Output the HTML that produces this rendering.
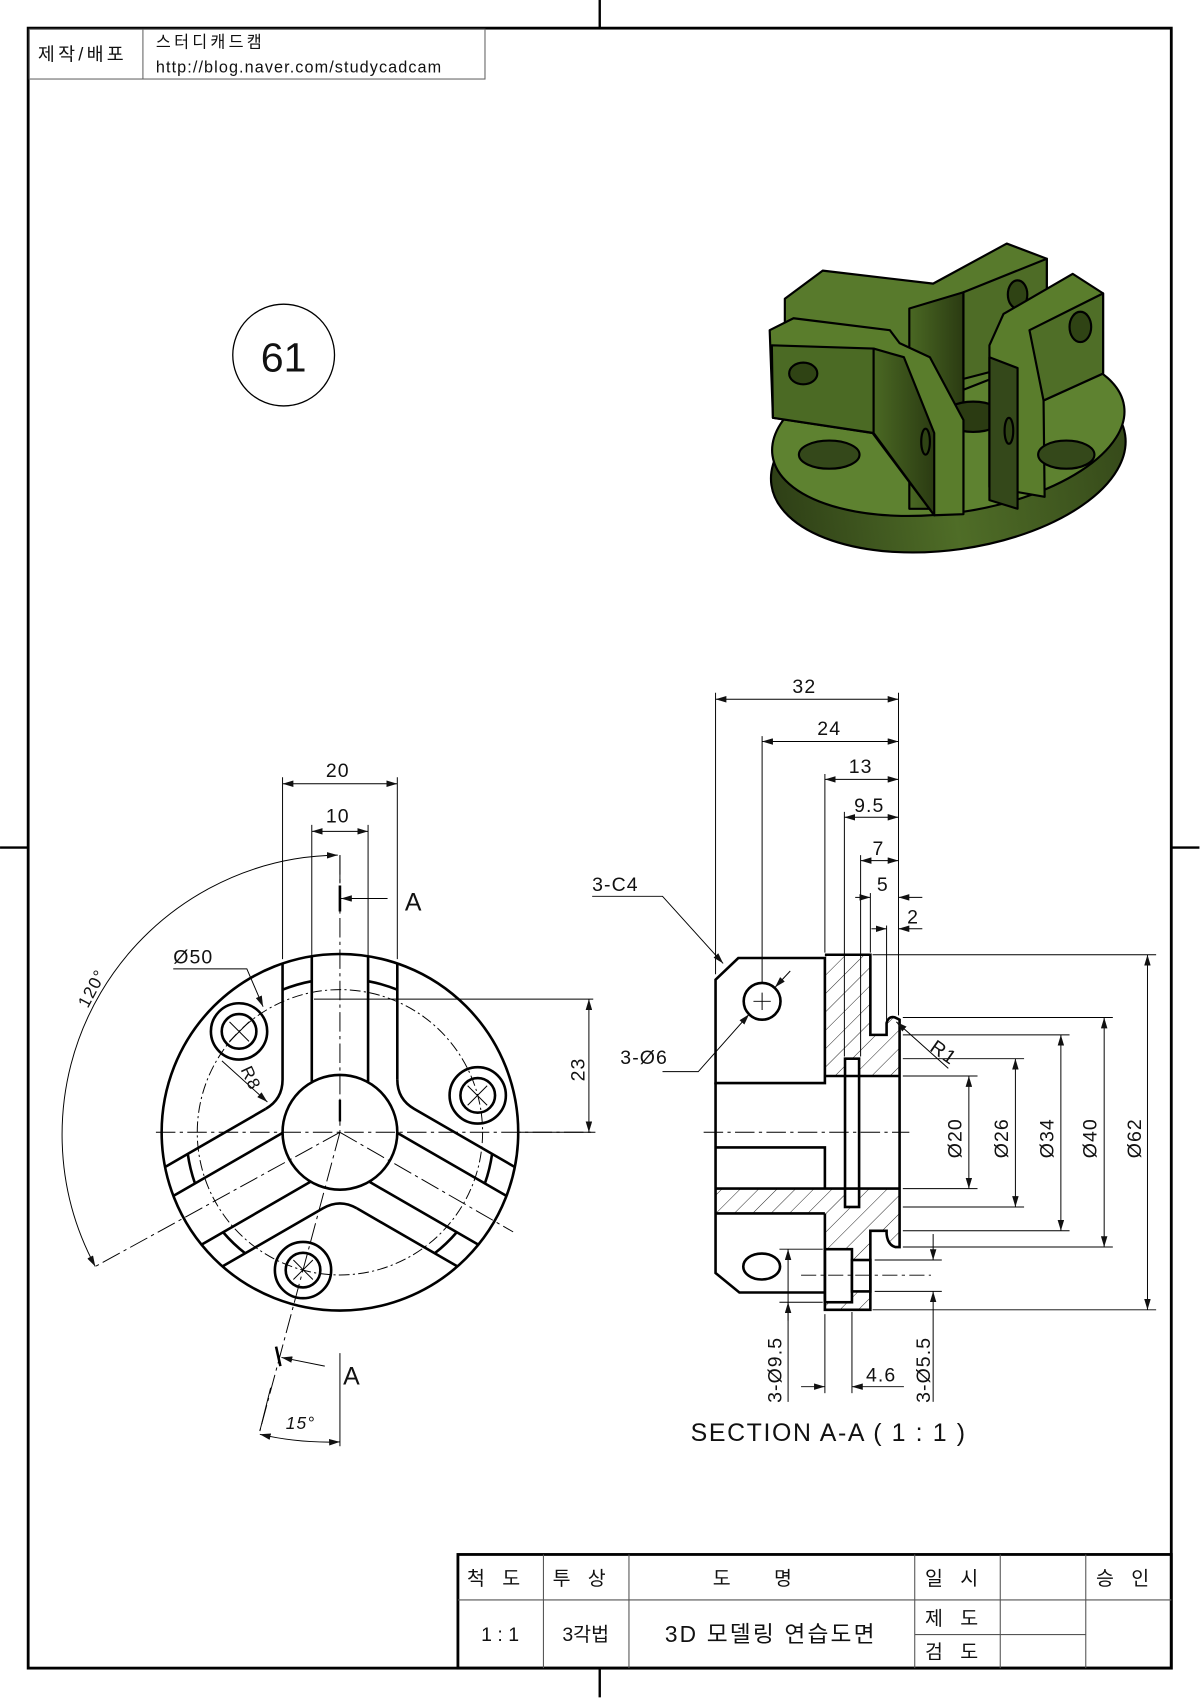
<!DOCTYPE html>
<html><head><meta charset="utf-8"><style>
html,body{margin:0;padding:0;background:#fff}
svg{display:block}
text{font-family:"Liberation Sans","Noto Sans CJK KR",sans-serif;fill:#111}
</style></head><body>
<svg width="1200" height="1698" viewBox="0 0 1108.5 1568.6" xmlns="http://www.w3.org/2000/svg">
<defs>
<pattern id="h" patternUnits="userSpaceOnUse" width="12" height="12" patternTransform="rotate(45)">
<line x1="0" y1="0" x2="0" y2="12" stroke="#222" stroke-width="0.9"/></pattern>
<marker id="a" viewBox="0 0 10 6" refX="10" refY="3" markerWidth="10" markerHeight="6" markerUnits="userSpaceOnUse" orient="auto-start-reverse"><path d="M0,0L10,3L0,6z" fill="#111"/></marker>
<linearGradient id="g1" x1="0" x2="1"><stop offset="0" stop-color="#2e3f16"/><stop offset="0.5" stop-color="#4f6d27"/><stop offset="1" stop-color="#364a1a"/></linearGradient>
<linearGradient id="g2" x1="0" x2="1"><stop offset="0" stop-color="#4a6823"/><stop offset="1" stop-color="#2b3b12"/></linearGradient>
</defs>
<rect width="1108.5" height="1568.6" fill="#fff"/>
<rect x="26" y="26" width="1056" height="1515" fill="none" stroke="#000" stroke-width="2.6"/>
<g stroke="#000" stroke-width="2.2">
<line x1="554" y1="0" x2="554" y2="26"/><line x1="554" y1="1541" x2="554" y2="1568"/>
<line x1="0" y1="783" x2="26" y2="783"/><line x1="1082" y1="783" x2="1108" y2="783"/>
</g>
<g stroke="#666" stroke-width="1" fill="none"><rect x="27" y="27" width="421" height="46"/><line x1="132" y1="27" x2="132" y2="73"/></g>
<text x="35" y="56" font-size="17" letter-spacing="3">제작/배포</text>
<text x="144" y="44" font-size="15" letter-spacing="3">스터디캐드캠</text>
<text x="144" y="67" font-size="15" letter-spacing="1">http://blog.naver.com/studycadcam</text>
<circle cx="262" cy="328" r="47" fill="none" stroke="#000" stroke-width="1.2"/>
<text x="262" y="343" font-size="38" text-anchor="middle">61</text>

<!-- 3D model -->
<g stroke="#000" stroke-width="2" stroke-linejoin="round">
<ellipse cx="876" cy="425" rx="165" ry="83" transform="rotate(-8 876 425)" fill="url(#g1)"/>
<ellipse cx="876" cy="398" rx="164" ry="76" transform="rotate(-8 876 398)" fill="#5e8230"/>
<path d="M725,276 L760,250 L862,262 L930,225 L967,239 L967,330 L890,360 L840,350 L725,300Z" fill="#587a2c"/>
<path d="M840,285 L890,270 L890,470 L840,470Z" fill="url(#g2)"/>
<path d="M890,270 L967,239 L967,330 L890,350Z" fill="#4e6c26"/>
<ellipse cx="940" cy="272" rx="9" ry="13" fill="#2f4314"/>
<ellipse cx="899" cy="385" rx="28" ry="14" fill="#2b3b12"/>
<path d="M711,305 L733,294 L822,305 L831,317 L859,330 L890,388 L890,475 L863,476 L806,400 L714,386Z" fill="#5a7d2c"/>
<path d="M713,319 L807,322 L807,400 L714,386Z" fill="#4b6a24"/>
<path d="M807,322 L835,330 L863,400 L863,476 L807,400Z" fill="url(#g2)"/>
<ellipse cx="742" cy="345" rx="13" ry="10" fill="#2f4314"/>
<ellipse cx="855" cy="408" rx="4" ry="12" fill="#2f4314"/>
<path d="M914,319 L927,290 L991,253 L1019,271 L1019,345 L964,370 L965,459 L914,450Z" fill="#5a7d2c"/>
<path d="M951,305 L1019,271 L1019,345 L964,370Z" fill="#4f6e27"/>
<path d="M914,330 L940,340 L940,470 L914,462Z" fill="#34481a"/>
<ellipse cx="932" cy="398" rx="4" ry="12" fill="#2f4314"/>
<ellipse cx="998" cy="302" rx="10" ry="14" fill="#2f4314"/>
<ellipse cx="766" cy="420" rx="28" ry="13" fill="#34481a"/>
<ellipse cx="985" cy="420" rx="26" ry="13" fill="#34481a"/>
</g>

<!-- FRONT VIEW -->
<g transform="translate(314,1046)" fill="none" stroke="#000">
<circle r="164.7" stroke-width="2.4"/>
<circle r="53" stroke-width="2.4"/>
<circle r="131.8" stroke-width="0.9" stroke-dasharray="10,3,2,3"/>
<g id="rib" stroke-width="2.4">
<path d="M-53,-155.9 L-53,-48.6 Q-53,-30.6 -68.6,-21.6"/>
<path d="M53,-155.9 L53,-48.6"/>
<path d="M-26,-46.2 L-26,-162.6 M26,-46.2 L26,-162.6"/>
<path d="M-53,-131.7 A142,142 0 0 1 -26,-139.6 M26,-139.6 A142,142 0 0 1 53,-131.7"/>
</g>
<use href="#rib" transform="rotate(-120)"/>
<use href="#rib" transform="rotate(120)"/>
<g stroke-width="2.4">
<circle cx="-93.2" cy="-93.2" r="26"/><circle cx="-93.2" cy="-93.2" r="16"/>
<circle cx="127.3" cy="-34.1" r="26"/><circle cx="127.3" cy="-34.1" r="16"/>
<circle cx="-34.1" cy="127.3" r="26"/><circle cx="-34.1" cy="127.3" r="16"/>
</g>
<g stroke-width="0.9">
<path d="M-102,-102 L-84,-84 M-102,-84 L-84,-102"/>
<path d="M118,-43 L136,-25 M118,-25 L136,-43"/>
<path d="M-43,118 L-25,136 M-43,136 L-25,118"/>
</g>
<g stroke-width="0.9" stroke-dasharray="18,4,3,4">
<line x1="-170" y1="0" x2="236" y2="0"/>
<line x1="0" y1="-256" x2="0" y2="0"/>
<line x1="0" y1="0" x2="-226" y2="124"/>
<line x1="0" y1="0" x2="160" y2="92"/>
<line x1="0" y1="0" x2="-74" y2="276"/>
</g>
<line x1="0" y1="-256" x2="0" y2="-230" stroke-width="0.9"/>
<line x1="0" y1="-10" x2="0" y2="-30" stroke-width="2.2"/>
<line x1="-24" y1="-123" x2="234" y2="-123" stroke-width="0.9"/>
<path d="M-226,124 A258,258 0 0 1 -2,-256" stroke-width="0.9" marker-start="url(#a)" marker-end="url(#a)"/>
</g>
<g fill="none" stroke="#000" stroke-width="0.9">
<line x1="261" y1="718" x2="261" y2="886"/><line x1="367" y1="718" x2="367" y2="886"/>
<line x1="261" y1="724" x2="367" y2="724" marker-start="url(#a)" marker-end="url(#a)"/>
<line x1="288" y1="762" x2="288" y2="883"/><line x1="340" y1="762" x2="340" y2="883"/>
<line x1="288" y1="768" x2="340" y2="768" marker-start="url(#a)" marker-end="url(#a)"/>
<line x1="314" y1="818" x2="314" y2="842" stroke-width="2.4"/>
<line x1="358" y1="830" x2="315" y2="830" marker-end="url(#a)"/>
<line x1="544" y1="923" x2="544" y2="1046" marker-start="url(#a)" marker-end="url(#a)"/>
<line x1="480" y1="1046" x2="550" y2="1046"/>
<path d="M160,895 L228,895 L243,930" marker-end="url(#a)"/>
<path d="M205,980 L247,1018" marker-end="url(#a)"/>
<line x1="255" y1="1244" x2="259" y2="1262" stroke-width="2.4"/>
<line x1="300" y1="1262" x2="260" y2="1254" marker-end="url(#a)"/>
<line x1="240" y1="1322" x2="250" y2="1282"/>
<line x1="314" y1="1250" x2="314" y2="1336"/>
<path d="M240,1325 A285,285 0 0 0 314,1332" marker-start="url(#a)" marker-end="url(#a)"/>
</g>
<g font-size="18" letter-spacing="1">
<text x="301" y="718">20</text>
<text x="301" y="760">10</text>
<text x="160" y="890">Ø50</text>
<text x="0" y="0" font-size="16" transform="translate(222,988) rotate(65)">R8</text>
<text x="0" y="0" font-size="16" transform="translate(81,932) rotate(-62)">120°</text>
<text x="0" y="0" transform="translate(540,999) rotate(-90)">23</text>
</g>
<text x="374" y="841" font-size="23">A</text>
<text x="317" y="1279" font-size="23">A</text>
<text x="264" y="1320" font-size="16" font-style="italic" letter-spacing="1">15°</text>

<!-- SECTION VIEW -->
<g stroke="#000" fill="none">
<path d="M762,882 L804,882 L804,956 L819,956 L819,945 Q821,938 827,940 L831,942 L831,994 L762,994Z" fill="url(#h)" stroke="none"/>
<path d="M661,1098 L831,1098 L831,1152 L827,1152 Q820,1150 819,1140 L819,1137 L804,1137 L804,1210 L762,1210 L762,1121 L661,1121Z" fill="url(#h)" stroke="none"/>
<rect x="780.6" y="978" width="13" height="137" fill="#fff" stroke-width="2.4"/>
<rect x="762" y="1154" width="25" height="49" fill="#fff" stroke-width="2.4"/>
<rect x="787" y="1164" width="17" height="29" fill="#fff" stroke-width="2.4"/>
<g stroke-width="2.4">
<path d="M682,885 L762,885 L762,1000.5 L661,1000.5 L661,905Z"/>
<path d="M762,882 L804,882 L804,956 L819,956 L819,945 Q821,938 827,940 L831,942 L831,1152 L827,1152 Q820,1150 819,1140 L819,1137 L804,1137 L804,1210 L762,1210 L762,1121"/>
<line x1="762" y1="994" x2="831" y2="994"/>
<path d="M661,1000 L661,1176 L683,1194 L762,1194"/>
<line x1="661" y1="1098" x2="831" y2="1098"/>
<path d="M661,1060 L762,1060 L762,1097"/>
<line x1="661" y1="1121" x2="762" y2="1121"/>
<circle cx="704" cy="925" r="17"/>
<ellipse cx="703.6" cy="1170" rx="17" ry="12"/>
</g>
<g stroke-width="0.9">
<path d="M696,925 L712,925 M704,917 L704,933"/>
<line x1="650" y1="1046" x2="840" y2="1046" stroke-dasharray="18,4,3,4"/>
<line x1="740" y1="1178" x2="860" y2="1178" stroke-dasharray="14,4,3,4"/>
<line x1="661" y1="640" x2="661" y2="900"/>
<line x1="704" y1="680" x2="704" y2="908"/>
<line x1="762" y1="715" x2="762" y2="880"/>
<line x1="780" y1="750" x2="780" y2="976"/>
<line x1="795" y1="790" x2="795" y2="976"/>
<line x1="804" y1="825" x2="804" y2="880"/>
<line x1="819" y1="855" x2="819" y2="954"/>
<line x1="830" y1="640" x2="830" y2="938"/>
<line x1="661" y1="646" x2="830" y2="646" marker-start="url(#a)" marker-end="url(#a)"/>
<line x1="704" y1="685" x2="830" y2="685" marker-start="url(#a)" marker-end="url(#a)"/>
<line x1="762" y1="720" x2="830" y2="720" marker-start="url(#a)" marker-end="url(#a)"/>
<line x1="780" y1="755" x2="830" y2="755" marker-start="url(#a)" marker-end="url(#a)"/>
<line x1="795" y1="795" x2="830" y2="795" marker-start="url(#a)" marker-end="url(#a)"/>
<line x1="790" y1="829" x2="804" y2="829" marker-end="url(#a)"/><line x1="852" y1="829" x2="830" y2="829" marker-end="url(#a)"/>
<line x1="805" y1="858" x2="819" y2="858" marker-end="url(#a)"/><line x1="852" y1="858" x2="830" y2="858" marker-end="url(#a)"/>
<line x1="806" y1="882" x2="1068" y2="882"/>
<line x1="834" y1="940" x2="1028" y2="940"/>
<line x1="834" y1="956" x2="988" y2="956"/>
<line x1="834" y1="978" x2="946" y2="978"/>
<line x1="834" y1="994" x2="903" y2="994"/>
<line x1="834" y1="1098" x2="903" y2="1098"/>
<line x1="834" y1="1115" x2="946" y2="1115"/>
<line x1="834" y1="1137" x2="988" y2="1137"/>
<line x1="834" y1="1152" x2="1028" y2="1152"/>
<line x1="806" y1="1210" x2="1068" y2="1210"/>
<line x1="895" y1="994" x2="895" y2="1098" marker-start="url(#a)" marker-end="url(#a)"/>
<line x1="938" y1="978" x2="938" y2="1115" marker-start="url(#a)" marker-end="url(#a)"/>
<line x1="980" y1="956" x2="980" y2="1137" marker-start="url(#a)" marker-end="url(#a)"/>
<line x1="1020" y1="940" x2="1020" y2="1152" marker-start="url(#a)" marker-end="url(#a)"/>
<line x1="1060" y1="882" x2="1060" y2="1210" marker-start="url(#a)" marker-end="url(#a)"/>
<line x1="720" y1="1154" x2="760" y2="1154"/>
<line x1="720" y1="1203" x2="760" y2="1203"/>
<line x1="728" y1="1154" x2="728" y2="1295" marker-start="url(#a)"/>
<line x1="728" y1="1220" x2="728" y2="1203" marker-end="url(#a)"/>
<line x1="808" y1="1164" x2="870" y2="1164"/>
<line x1="808" y1="1193" x2="870" y2="1193"/>
<line x1="862" y1="1140" x2="862" y2="1164" marker-end="url(#a)"/>
<line x1="862" y1="1295" x2="862" y2="1193" marker-end="url(#a)"/>
<line x1="762" y1="1214" x2="762" y2="1287"/>
<line x1="787" y1="1212" x2="787" y2="1287"/>
<line x1="740" y1="1281" x2="762" y2="1281" marker-end="url(#a)"/>
<line x1="835" y1="1281" x2="787" y2="1281" marker-end="url(#a)"/>
<path d="M547,828 L612,828 L668,890" marker-end="url(#a)"/>
<path d="M612,990 L645,990 L692,937" marker-end="url(#a)"/>
<line x1="730" y1="897" x2="716" y2="912" marker-end="url(#a)"/>
<line x1="876" y1="987" x2="828" y2="944" marker-end="url(#a)"/>
</g>
</g>
<g font-size="18" letter-spacing="1">
<text x="732" y="640">32</text>
<text x="755" y="679">24</text>
<text x="784" y="714">13</text>
<text x="789" y="750">9.5</text>
<text x="806" y="790">7</text>
<text x="810" y="823">5</text>
<text x="838" y="853">2</text>
<text x="547" y="823">3-C4</text>
<text x="573" y="983">3-Ø6</text>
<text x="0" y="0" transform="translate(858,970) rotate(35)">R1</text>
<text x="0" y="0" transform="translate(888,1070) rotate(-90)">Ø20</text>
<text x="0" y="0" transform="translate(931,1070) rotate(-90)">Ø26</text>
<text x="0" y="0" transform="translate(973,1070) rotate(-90)">Ø34</text>
<text x="0" y="0" transform="translate(1013,1070) rotate(-90)">Ø40</text>
<text x="0" y="0" transform="translate(1054,1070) rotate(-90)">Ø62</text>
<text x="0" y="0" transform="translate(722,1296) rotate(-90)">3-Ø9.5</text>
<text x="0" y="0" transform="translate(859,1296) rotate(-90)">3-Ø5.5</text>
<text x="800" y="1276">4.6</text>
</g>
<text x="638" y="1331" font-size="23" letter-spacing="1.5">SECTION A-A ( 1 : 1 )</text>

<g fill="none" stroke="#000">
<rect x="423" y="1436" width="659" height="105" stroke-width="2.6"/>
<g stroke="#555" stroke-width="1">
<line x1="423" y1="1478" x2="1082" y2="1478"/>
<line x1="502" y1="1436" x2="502" y2="1541"/>
<line x1="581" y1="1436" x2="581" y2="1541"/>
<line x1="845" y1="1436" x2="845" y2="1541"/>
<line x1="924" y1="1436" x2="924" y2="1541"/>
<line x1="1003" y1="1436" x2="1003" y2="1541"/>
<line x1="845" y1="1510" x2="1003" y2="1510"/>
</g></g>
<g font-size="18" text-anchor="middle">
<text x="464" y="1464" letter-spacing="16">척도</text>
<text x="543" y="1464" letter-spacing="16">투상</text>
<text x="715" y="1464" letter-spacing="40">도명</text>
<text x="887" y="1464" letter-spacing="16">일시</text>
<text x="1045" y="1464" letter-spacing="16">승인</text>
<text x="462" y="1516">1 : 1</text>
<text x="541" y="1516">3각법</text>
<text x="712" y="1517" font-size="21" letter-spacing="2">3D 모델링 연습도면</text>
<text x="887" y="1501" letter-spacing="16">제도</text>
<text x="887" y="1532" letter-spacing="16">검도</text>
</g>
</svg>
</body></html>
